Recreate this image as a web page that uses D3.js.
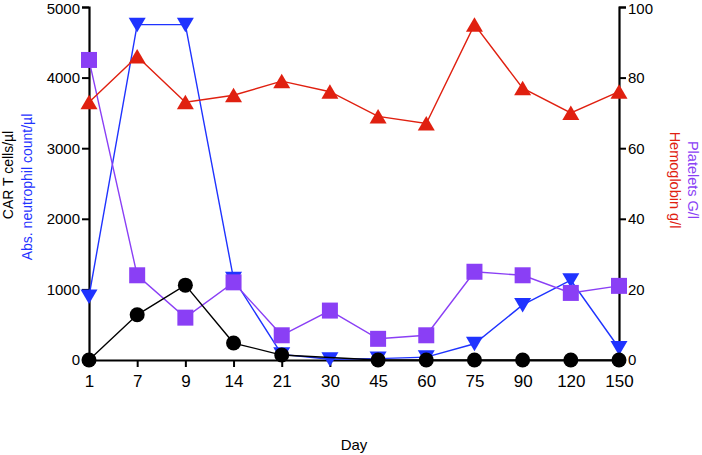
<!DOCTYPE html>
<html><head><meta charset="utf-8">
<script src="https://cdn.jsdelivr.net/npm/d3@7"></script>
<style>body{margin:0;background:#fff}svg{display:block}text{font-family:"Liberation Sans",Arial,Helvetica,sans-serif}</style>
</head><body>
<svg id="c" width="702" height="455"></svg>
<script>
const days = ["1","7","9","14","21","30","45","60","75","90","120","150"];
const carT = [0,640,1060,240,70,null,0,0,0,0,0,0];
const neutro = [900,4750,4750,1150,80,10,20,40,230,780,1130,170];
const platelets = [85,24,12,22,7,14,6,7,25,24,19,21];
const hemoglobin = [73,86,73,75,79,76,69,67,95,77,70,76];
const leftTicks = [0,1000,2000,3000,4000,5000];
const rightTicks = [0,20,40,60,80,100];

const svg = d3.select("#c");
const L=89, R=619, T=7, B=360;
const x = d3.scalePoint().domain(days).range([L,R]);
const yL = d3.scaleLinear().domain([0,5000]).range([B,T]);
const yR = d3.scaleLinear().domain([0,100]).range([B,T]);

function styleAxis(g){
  g.select(".domain").attr("stroke","#000").attr("stroke-width",2.2);
  g.selectAll(".tick line").attr("stroke","#000").attr("stroke-width",2);
  g.selectAll(".tick text").attr("font-size",15).attr("fill","#000");
}
svg.append("g").attr("transform",`translate(0,${B})`)
  .call(d3.axisBottom(x).tickSizeOuter(0).tickSize(7).tickPadding(8))
  .call(styleAxis).call(g=>g.selectAll(".tick text").attr("font-size",17));
svg.append("g").attr("transform",`translate(${L},0)`)
  .call(d3.axisLeft(yL).tickValues(leftTicks).tickFormat(d3.format("d")).tickSizeOuter(0).tickSize(7).tickPadding(2))
  .call(styleAxis).call(g=>g.selectAll(".tick text").filter(d=>d===5000).attr("dy","0.42em"));
svg.append("g").attr("transform",`translate(${R},0)`)
  .call(d3.axisRight(yR).tickValues(rightTicks).tickFormat(d3.format("d")).tickSizeOuter(0).tickSize(7).tickPadding(2))
  .call(styleAxis).call(g=>g.selectAll(".tick text").filter(d=>d===100).attr("dy","0.42em"));

// titles
svg.append("text").attr("transform","translate(13,175) rotate(-90)").attr("text-anchor","middle").attr("font-size",14).attr("fill","#000").text("CAR T cells/µl");
svg.append("text").attr("transform","translate(32,187) rotate(-90)").attr("text-anchor","middle").attr("font-size",14).attr("fill","#1f33ff").text("Abs. neutrophil count/µl");
svg.append("text").attr("transform","translate(688,180) rotate(90)").attr("text-anchor","middle").attr("font-size",14.5).attr("fill","#8a3ff5").text("Platelets G/l");
svg.append("text").attr("transform","translate(670,180) rotate(90)").attr("text-anchor","middle").attr("font-size",14.5).attr("fill","#e02010").text("Hemoglobin g/l");
svg.append("text").attr("x",354).attr("y",450).attr("text-anchor","middle").attr("font-size",15).attr("fill","#000").text("Day");

const up = "M0,-7.5L8.5,7L-8.5,7Z";
const down = "M0,7.5L8.5,-7L-8.5,-7Z";
const square = "M-8,-8H8V8H-8Z";

function series(vals, scale, color, shape){
  const pts = days.map((d,i)=>({d,v:vals[i]})).filter(p=>p.v!==null);
  const g = svg.append("g");
  g.append("path").datum(pts)
    .attr("d", d3.line().x(p=>x(p.d)).y(p=>scale(p.v)))
    .attr("fill","none").attr("stroke",color).attr("stroke-width",1.4);
  const m = g.selectAll(".m").data(pts).enter();
  if(shape==="circle"){
    m.append("circle").attr("cx",p=>x(p.d)).attr("cy",p=>scale(p.v)).attr("r",7.5).attr("fill",color);
  } else {
    m.append("path").attr("d",shape).attr("transform",p=>`translate(${x(p.d)},${scale(p.v)})`).attr("fill",color);
  }
}
series(neutro, yL, "#1f33ff", down);
series(platelets, yR, "#8a3ff5", square);
series(hemoglobin, yR, "#e02010", up);
series(carT, yL, "#000", "circle");
</script>
</body></html>
